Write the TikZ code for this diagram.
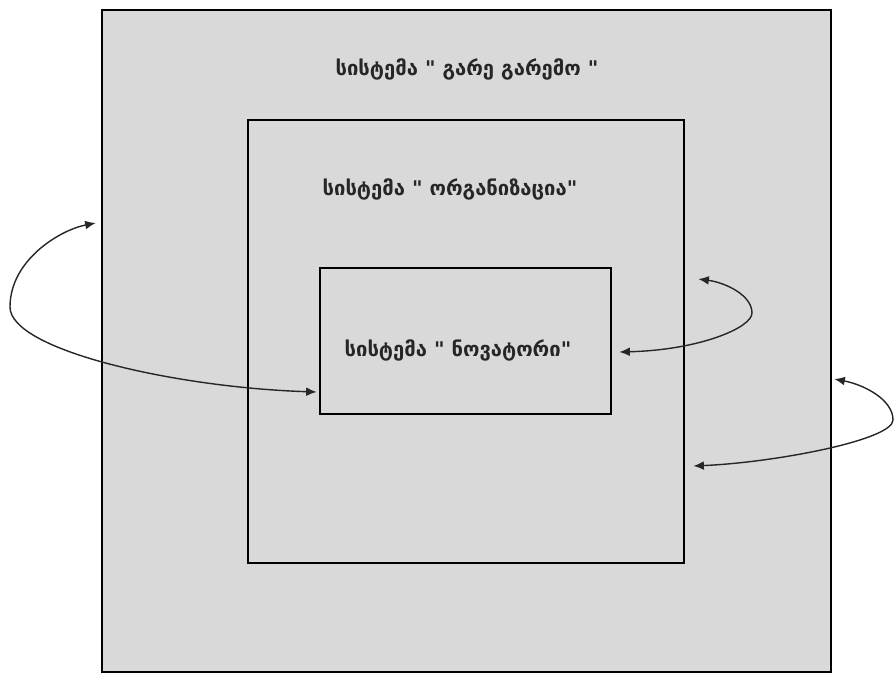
\documentclass[tikz,border=0pt]{standalone}
\usepackage{fontspec}
\setmainfont{DejaVu Sans}
\usetikzlibrary{backgrounds,arrows.meta}
\definecolor{sysgrey}{HTML}{D9D9D9}
\newcommand{\qq}{\textquotedbl}

\begin{document}
\begin{tikzpicture}[
    font=\fontsize{11.5}{13}\selectfont\bfseries, >={Latex[length=6pt,width=5pt]},
    sysbox/.style={rectangle,draw=black,line width=1.5pt,fill=sysgrey},
    syslbl/.style={anchor=center,inner sep=1pt,text=black!85},
    cyc/.style={<->,line width=0.8pt,draw=black!85}]
  \useasboundingbox (0,0) rectangle (17.88,13.5);

  % ---------------- the three nested systems
  \node[sysbox,minimum width=14.58cm,minimum height=13.24cm] (env) at (9.33,6.68) {};
  \node[sysbox,minimum width=8.72cm,minimum height=8.86cm] (org) at (9.32,6.67) {};
  \node[sysbox,minimum width=5.82cm,minimum height=2.92cm] (innov) at (9.31,6.68) {};

  \node[syslbl] (envlbl) at (9.34,12.12) {სისტემა \qq{} გარე გარემო \qq};
  \node[syslbl] (orglbl) at (9.00,9.72) {სისტემა \qq{} ორგანიზაცია\qq};
  \node[syslbl] (innovlbl) at (9.16,6.50) {სისტემა \qq{} ნოვატორი\qq};

  % ---------------- the exchange loops
  \coordinate (lturn) at (0.20,7.36);
  \coordinate (mturn) at (15.04,7.24);
  \coordinate (rturn) at (17.86,5.10);

  \draw[cyc] ([xshift=-1mm,yshift=23.6mm]env.west)
        .. controls (1.2,8.9) and (0.2,8.3) .. (lturn)
        .. controls (0.2,6.5) and (3.5,5.75) .. ([xshift=-0.4mm,yshift=-10.2mm]innov.west);

  \draw[cyc] ([xshift=2.6mm,yshift=12.5mm]org.east)
        .. controls (14.5,7.85) and (15.04,7.6) .. (mturn)
        .. controls (15.04,6.95) and (14.0,6.5) .. ([xshift=1.4mm,yshift=-2.2mm]innov.east);

  \draw[cyc] ([xshift=0.4mm,yshift=-7.6mm]env.east)
        .. controls (17.3,5.8) and (17.86,5.5) .. (rturn)
        .. controls (17.86,4.7) and (15.5,4.25) .. ([xshift=1.6mm,yshift=-24.9mm]org.east);
\end{tikzpicture}
\end{document}
